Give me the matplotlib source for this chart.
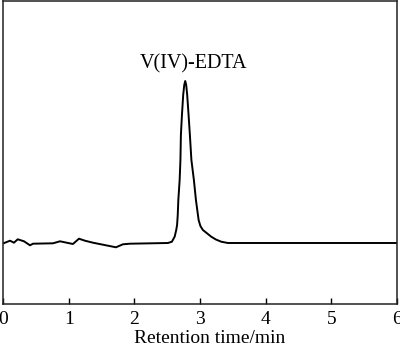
import matplotlib
matplotlib.use('Agg')
import matplotlib.pyplot as plt

# chromatogram trace: retention time (min) and detector signal (arb. units)
time_min = [0.000, 0.107, 0.167, 0.224, 0.320, 0.411, 0.457, 0.761, 0.868,
            1.065, 1.157, 1.248, 1.370, 1.720, 1.826, 1.933, 2.511, 2.572,
            2.614, 2.638, 2.651, 2.661, 2.670, 2.690, 2.702, 2.709, 2.725,
            2.744, 2.760, 2.775, 2.790, 2.805, 2.826, 2.846, 2.869, 2.907,
            2.938, 2.979, 3.006, 3.044, 3.171, 3.242, 3.323, 3.425, 6.000]
signal = [-0.5, 2.3, 0.3, 3.7, 1.7, -2.3, -0.7, -0.3, 1.7,
          -1.0, 4.3, 2.3, 0.3, -4.3, -1.3, -0.7, 0.0, 1.3,
          6.3, 13.0, 18.0, 28.0, 43.0, 63.0, 83.0, 108.0, 128.0,
          148.0, 158.0, 162.0, 158.0, 148.0, 128.0, 108.0, 83.0, 63.0,
          43.0, 23.0, 17.0, 13.0, 6.3, 3.5, 1.3, 0.0, 0.0]

xticks = [0, 1, 2, 3, 4, 5, 6]
peak_label = 'V(IV)-EDTA'

plt.rcParams['font.family'] = ['Liberation Serif', 'DejaVu Serif']

fig = plt.figure(figsize=(4.0, 3.49), dpi=100)
ax = fig.add_axes([3 / 400, 45 / 349, 394 / 400, 303 / 349])

ax.plot(time_min, signal, color='black', lw=1.4, solid_joinstyle='round')
ax.text(2.907, 179, peak_label, ha='center', va='center', fontsize=14.5)

ax.set_xlim(0, 6)
ax.set_ylim(-61, 242)
ax.set_xticks(xticks)
ax.set_yticks([])
ax.tick_params(axis='x', direction='in', length=4, width=1, labelsize=14, pad=5)
ax.set_xlabel('Retention time/min', fontsize=14, labelpad=2)
ax.xaxis.set_label_coords(0.525, -0.085)
for s in ax.spines.values():
    s.set_linewidth(1.1)
    s.set_color('#222222')

fig.savefig('out.png', dpi=100, facecolor='white')
